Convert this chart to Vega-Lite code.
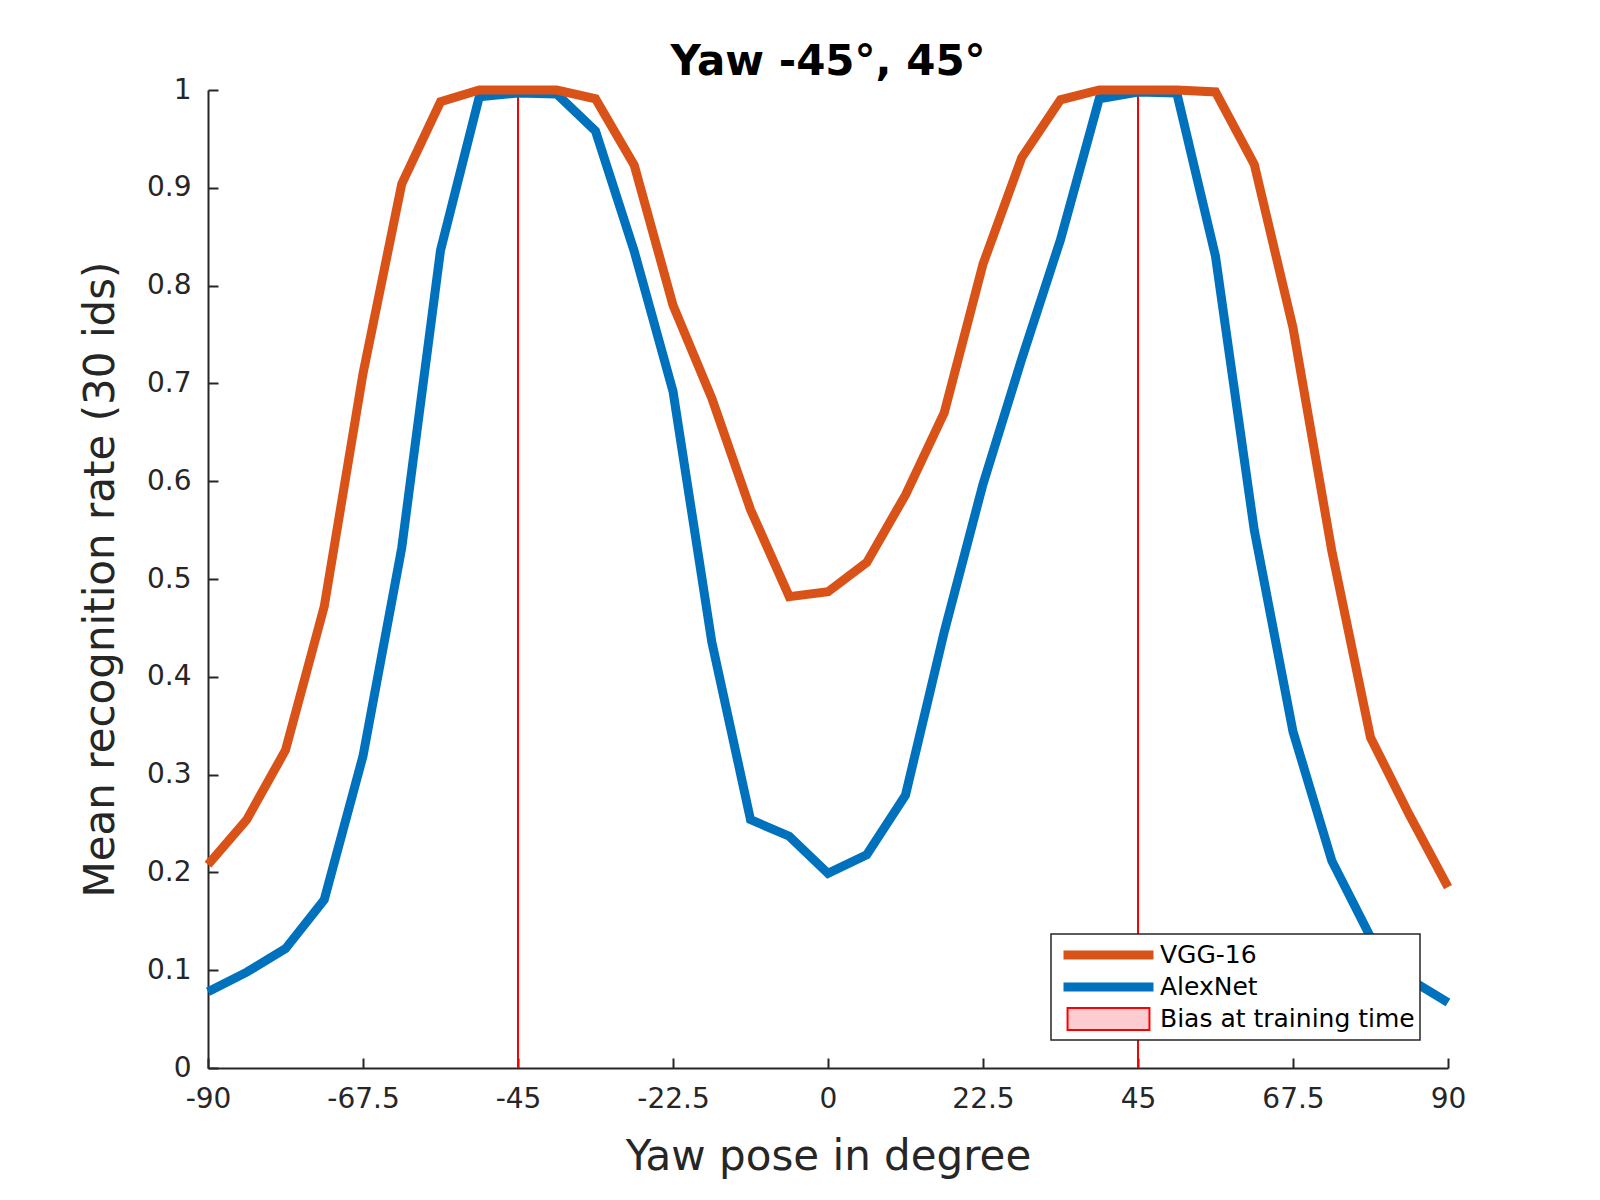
{
  "$schema": "https://vega.github.io/schema/vega-lite/v6.json",
  "description": "Mean recognition rate per yaw pose, VGG-16 vs AlexNet, trained with yaw bias at -45 and 45 degrees.",
  "width": 1240,
  "height": 978,
  "autosize": {"type": "none"},
  "padding": {"left": 208, "top": 90, "right": 152, "bottom": 132},
  "background": "white",
  "config": {"font": "DejaVu Sans", "view": {"stroke": null}},
  "title": {
    "text": "Yaw -45°, 45°",
    "fontSize": 42,
    "fontWeight": "bold",
    "color": "#000000",
    "anchor": "middle",
    "frame": "group",
    "baseline": "alphabetic",
    "offset": 13,
    "dy": 58
  },
  "datasets": {
    "bias": [
      {"yaw": -45, "series": "Bias at training time"},
      {"yaw": 45, "series": "Bias at training time"}
    ],
    "curves": [
      {"yaw": -90, "series": "AlexNet", "rate": 0.078},
      {"yaw": -84.375, "series": "AlexNet", "rate": 0.098},
      {"yaw": -78.75, "series": "AlexNet", "rate": 0.122},
      {"yaw": -73.125, "series": "AlexNet", "rate": 0.172},
      {"yaw": -67.5, "series": "AlexNet", "rate": 0.319},
      {"yaw": -61.875, "series": "AlexNet", "rate": 0.532},
      {"yaw": -56.25, "series": "AlexNet", "rate": 0.836},
      {"yaw": -50.625, "series": "AlexNet", "rate": 0.993},
      {"yaw": -45, "series": "AlexNet", "rate": 0.997},
      {"yaw": -39.375, "series": "AlexNet", "rate": 0.996},
      {"yaw": -33.75, "series": "AlexNet", "rate": 0.958},
      {"yaw": -28.125, "series": "AlexNet", "rate": 0.835},
      {"yaw": -22.5, "series": "AlexNet", "rate": 0.692},
      {"yaw": -16.875, "series": "AlexNet", "rate": 0.436},
      {"yaw": -11.25, "series": "AlexNet", "rate": 0.254},
      {"yaw": -5.625, "series": "AlexNet", "rate": 0.237},
      {"yaw": 0, "series": "AlexNet", "rate": 0.199},
      {"yaw": 5.625, "series": "AlexNet", "rate": 0.218},
      {"yaw": 11.25, "series": "AlexNet", "rate": 0.279},
      {"yaw": 16.875, "series": "AlexNet", "rate": 0.446},
      {"yaw": 22.5, "series": "AlexNet", "rate": 0.597},
      {"yaw": 28.125, "series": "AlexNet", "rate": 0.725},
      {"yaw": 33.75, "series": "AlexNet", "rate": 0.847},
      {"yaw": 39.375, "series": "AlexNet", "rate": 0.991},
      {"yaw": 45, "series": "AlexNet", "rate": 0.998},
      {"yaw": 50.625, "series": "AlexNet", "rate": 0.997},
      {"yaw": 56.25, "series": "AlexNet", "rate": 0.83},
      {"yaw": 61.875, "series": "AlexNet", "rate": 0.55},
      {"yaw": 67.5, "series": "AlexNet", "rate": 0.344},
      {"yaw": 73.125, "series": "AlexNet", "rate": 0.212},
      {"yaw": 78.75, "series": "AlexNet", "rate": 0.134},
      {"yaw": 84.375, "series": "AlexNet", "rate": 0.091},
      {"yaw": 90, "series": "AlexNet", "rate": 0.067},
      {"yaw": -90, "series": "VGG-16", "rate": 0.208},
      {"yaw": -84.375, "series": "VGG-16", "rate": 0.254},
      {"yaw": -78.75, "series": "VGG-16", "rate": 0.325},
      {"yaw": -73.125, "series": "VGG-16", "rate": 0.472},
      {"yaw": -67.5, "series": "VGG-16", "rate": 0.71},
      {"yaw": -61.875, "series": "VGG-16", "rate": 0.904},
      {"yaw": -56.25, "series": "VGG-16", "rate": 0.988},
      {"yaw": -50.625, "series": "VGG-16", "rate": 1.0},
      {"yaw": -45, "series": "VGG-16", "rate": 1.0},
      {"yaw": -39.375, "series": "VGG-16", "rate": 1.0},
      {"yaw": -33.75, "series": "VGG-16", "rate": 0.991},
      {"yaw": -28.125, "series": "VGG-16", "rate": 0.923},
      {"yaw": -22.5, "series": "VGG-16", "rate": 0.78},
      {"yaw": -16.875, "series": "VGG-16", "rate": 0.685},
      {"yaw": -11.25, "series": "VGG-16", "rate": 0.571},
      {"yaw": -5.625, "series": "VGG-16", "rate": 0.482},
      {"yaw": 0, "series": "VGG-16", "rate": 0.487},
      {"yaw": 5.625, "series": "VGG-16", "rate": 0.517},
      {"yaw": 11.25, "series": "VGG-16", "rate": 0.586},
      {"yaw": 16.875, "series": "VGG-16", "rate": 0.67},
      {"yaw": 22.5, "series": "VGG-16", "rate": 0.822},
      {"yaw": 28.125, "series": "VGG-16", "rate": 0.931},
      {"yaw": 33.75, "series": "VGG-16", "rate": 0.99},
      {"yaw": 39.375, "series": "VGG-16", "rate": 1.0},
      {"yaw": 45, "series": "VGG-16", "rate": 1.0},
      {"yaw": 50.625, "series": "VGG-16", "rate": 1.0},
      {"yaw": 56.25, "series": "VGG-16", "rate": 0.998},
      {"yaw": 61.875, "series": "VGG-16", "rate": 0.924},
      {"yaw": 67.5, "series": "VGG-16", "rate": 0.757},
      {"yaw": 73.125, "series": "VGG-16", "rate": 0.529},
      {"yaw": 78.75, "series": "VGG-16", "rate": 0.338},
      {"yaw": 84.375, "series": "VGG-16", "rate": 0.259},
      {"yaw": 90, "series": "VGG-16", "rate": 0.185}
    ]
  },
  "layer": [
    {
      "data": {"name": "bias"},
      "mark": {"type": "rule", "strokeWidth": 2},
      "encoding": {
        "x": {
          "field": "yaw",
          "type": "quantitative",
          "scale": {"domain": [-90, 90], "nice": false, "zero": false}
        },
        "color": {
          "field": "series",
          "type": "nominal",
          "scale": {
            "domain": ["VGG-16", "AlexNet", "Bias at training time"],
            "range": ["#D95319", "#0072BD", "#FF0000"]
          }
        }
      }
    },
    {
      "data": {"name": "curves"},
      "mark": {"type": "line", "strokeWidth": 9, "strokeJoin": "miter"},
      "encoding": {
        "x": {
          "field": "yaw",
          "type": "quantitative",
          "scale": {"domain": [-90, 90], "nice": false, "zero": false},
          "axis": {
            "title": "Yaw pose in degree",
            "values": [-90, -67.5, -45, -22.5, 0, 22.5, 45, 67.5, 90],
            "labelExpr": "'' + datum.value",
            "labelFontSize": 28,
            "labelColor": "#262626",
            "labelPadding": 27,
            "labelFlush": false,
            "labelOverlap": false,
            "titleFontSize": 42,
            "titleFontWeight": "normal",
            "titleColor": "#262626",
            "titlePadding": 23,
            "domainColor": "#262626",
            "domainWidth": 2,
            "tickColor": "#262626",
            "tickWidth": 2,
            "tickSize": -10,
            "grid": false,
            "encode": {
              "labels": {
                "enter": {
                  "dx": {"signal": "datum.value === 0 ? -18 : (datum.value % 1 !== 0 ? -3 : -11)"}
                },
                "update": {
                  "dx": {"signal": "datum.value === 0 ? -18 : (datum.value % 1 !== 0 ? -3 : -11)"}
                }
              }
            }
          }
        },
        "y": {
          "field": "rate",
          "type": "quantitative",
          "scale": {"domain": [0, 1], "nice": false},
          "axis": {
            "title": "Mean recognition rate (30 ids)",
            "values": [0, 0.1, 0.2, 0.3, 0.4, 0.5, 0.6, 0.7, 0.8, 0.9, 1],
            "labelExpr": "'' + datum.value",
            "labelFontSize": 28,
            "labelColor": "#262626",
            "labelPadding": 27,
            "labelFlush": false,
            "labelOverlap": false,
            "titleFontSize": 42,
            "titleFontWeight": "normal",
            "titleColor": "#262626",
            "titlePadding": 24,
            "domainColor": "#262626",
            "domainWidth": 2,
            "tickColor": "#262626",
            "tickWidth": 2,
            "tickSize": -10,
            "grid": false
          }
        },
        "color": {
          "field": "series",
          "type": "nominal",
          "scale": {
            "domain": ["VGG-16", "AlexNet", "Bias at training time"],
            "range": ["#D95319", "#0072BD", "#FF0000"]
          },
          "legend": {
            "title": null,
            "orient": "bottom-right",
            "offset": 28,
            "padding": 5,
            "fillColor": "white",
            "strokeColor": "#262626",
            "labelFontSize": 25,
            "labelColor": "#000000",
            "labelLimit": 500,
            "labelOffset": 39,
            "symbolType": "stroke",
            "symbolSize": 8100,
            "symbolStrokeWidth": 9,
            "symbolOffset": 40,
            "clipHeight": 32,
            "rowPadding": 0,
            "encode": {
              "legend": {"update": {"strokeWidth": {"value": 1.5}}},
              "symbols": {
                "update": {
                  "shape": {"signal": "datum.value === 'Bias at training time' ? 'M-0.91,-0.244H0.91V0.244H-0.91Z' : 'stroke'"},
                  "fill": {"signal": "datum.value === 'Bias at training time' ? '#FCCCD0' : 'transparent'"},
                  "strokeWidth": {"signal": "datum.value === 'Bias at training time' ? 2 : 9"},
                  "opacity": {"value": 1}
                }
              }
            }
          }
        }
      }
    }
  ]
}
